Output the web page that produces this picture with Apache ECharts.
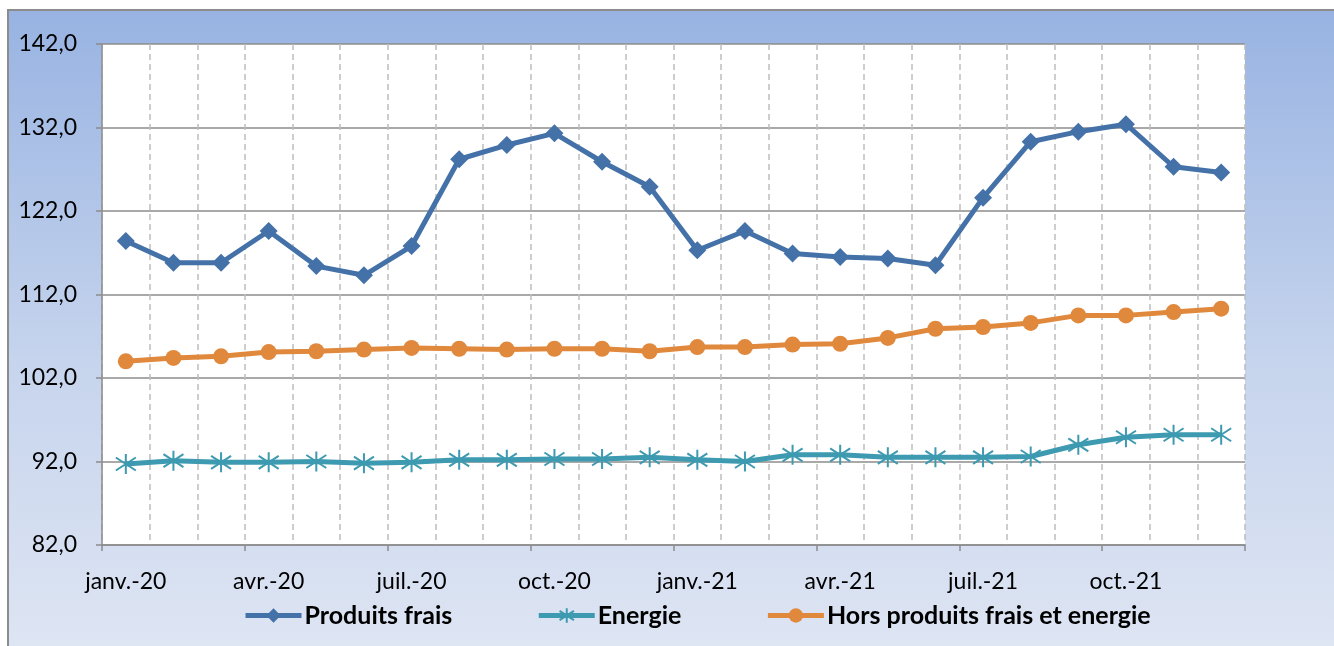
<!DOCTYPE html>
<html><head><meta charset="utf-8">
<script src="https://cdn.jsdelivr.net/npm/echarts@6/dist/echarts.min.js"></script>
<style>html,body{margin:0;padding:0;background:#fff}#c{width:1334px;height:646px}</style>
</head><body><div id="c"></div>
<script>
const months = ['janv.-20','févr.-20','mars-20','avr.-20','mai-20','juin-20','juil.-20','août-20','sept.-20','oct.-20','nov.-20','déc.-20',
  'janv.-21','févr.-21','mars-21','avr.-21','mai-21','juin-21','juil.-21','août-21','sept.-21','oct.-21','nov.-21','déc.-21'];
const produitsFrais = [118.4,115.8,115.8,119.6,115.4,114.3,117.8,128.2,129.9,131.3,127.9,124.9,117.3,119.6,116.9,116.5,116.3,115.5,123.6,130.3,131.5,132.4,127.3,126.6];
const energie = [91.7,92.1,91.9,91.9,92.0,91.8,91.9,92.2,92.2,92.3,92.3,92.5,92.2,92.0,92.8,92.8,92.5,92.5,92.5,92.6,94.0,94.9,95.2,95.2];
const horsPFE = [104.0,104.4,104.6,105.1,105.2,105.4,105.6,105.5,105.4,105.5,105.5,105.2,105.7,105.7,106.0,106.1,106.8,107.9,108.1,108.6,109.5,109.5,109.9,110.3];
const seriesNames = ['Produits frais','Energie','Hors produits frais et energie'];
const yMin = 82, yMax = 142, yStep = 10;

const chart = echarts.init(document.getElementById('c'));
const font = 'Lato, "Open Sans", sans-serif';
const star = 'path://M10 0 L10 20 M1.5 3.5 L18.5 16.5 M1.5 16.5 L18.5 3.5';
chart.setOption({
  animation: false,
  graphic: [
    {type:'rect', z:-10, shape:{x:8,y:10,width:1330,height:640},
     style:{fill:new echarts.graphic.LinearGradient(0,0,0,1,[{offset:0,color:'#98B3E2'},{offset:0.55,color:'#C6D4ED'},{offset:1,color:'#DEE5F3'}]),
            stroke:'#8c8c8c', lineWidth:2}},
    {type:'rect', z:-9, shape:{x:102,y:44,width:1143,height:501}, style:{fill:'#ffffff'}}
  ],
  grid:{left:102, right:89, top:44, bottom:101, containLabel:false},
  legend:{
    top:598, left:238, itemWidth:56, itemHeight:18, itemGap:84,
    lineStyle:{width:5},
    textStyle:{fontFamily:font, fontSize:25, fontWeight:'bold', color:'#000', padding:[0,0,0,-2]},
    data: seriesNames
  },
  xAxis:{
    type:'category', data:months, boundaryGap:true,
    axisLine:{lineStyle:{color:'#8c8c8c', width:1.5}},
    axisTick:{show:true, interval:2, length:6, lineStyle:{color:'#8c8c8c', width:1.5}},
    axisLabel:{interval:2, margin:25, fontFamily:font, fontSize:23, color:'#000'},
    splitLine:{show:true, interval:0, lineStyle:{color:'#bdbdbd', type:[6,4], width:1.5}}
  },
  yAxis:{
    type:'value', min:yMin, max:yMax, interval:yStep,
    axisLine:{show:true, lineStyle:{color:'#8c8c8c', width:1.5}},
    axisTick:{show:true, length:6, lineStyle:{color:'#8c8c8c', width:1.5}},
    axisLabel:{margin:25, fontFamily:font, fontSize:23, color:'#000',
      formatter:v=>v.toFixed(1).replace('.',',')},
    splitLine:{show:true, lineStyle:{color:'#8c8c8c', width:1.5}}
  },
  series:[
    {name:seriesNames[0], type:'line', data:produitsFrais, symbol:'diamond', symbolSize:18,
     lineStyle:{color:'#4472A8', width:5}, itemStyle:{color:'#4472A8'}},
    {name:seriesNames[1], type:'line', data:energie, symbol:star, symbolSize:20,
     lineStyle:{color:'#3D9AB0', width:5}, itemStyle:{color:'rgba(0,0,0,0)', borderColor:'#3D9AB0', borderWidth:2}},
    {name:seriesNames[2], type:'line', data:horsPFE, symbol:'circle', symbolSize:16,
     lineStyle:{color:'#E0883C', width:5}, itemStyle:{color:'#E0883C'}}
  ]
});
</script></body></html>
